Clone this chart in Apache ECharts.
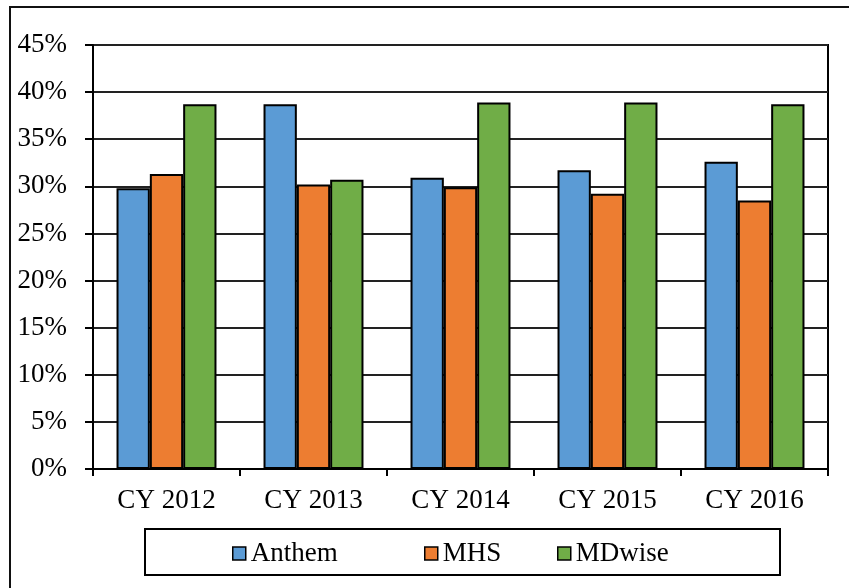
<!DOCTYPE html>
<html>
<head>
<meta charset="utf-8">
<script src="https://cdn.jsdelivr.net/npm/echarts@6/dist/echarts.min.js"></script>
<style>
  html, body { margin: 0; padding: 0; background: #fff; }
  #main { width: 849px; height: 588px; }
</style>
</head>
<body>
<div id="main"></div>
<script>
// data
var years = ['CY 2012', 'CY 2013', 'CY 2014', 'CY 2015', 'CY 2016'];
var anthem = [0.298, 0.387, 0.309, 0.317, 0.326];
var mhs = [0.313, 0.302, 0.299, 0.292, 0.285];
var mdwise = [0.387, 0.307, 0.389, 0.389, 0.387];
var seriesNames = ['Anthem', 'MHS', 'MDwise'];
var colors = ['#5B9BD5', '#ED7D31', '#70AD47'];

var font = '"Liberation Serif", "Times New Roman", serif';
var chart = echarts.init(document.getElementById('main'));

function bar(name, data, i) {
  return {
    name: name,
    type: 'bar',
    data: data,
    barGap: '0%',
    barCategoryGap: '32%',
    itemStyle: { color: colors[i], borderColor: '#000', borderWidth: 2 }
  };
}

// one legend per entry so the spacing can follow the picture
var legendX = [232, 424, 557];
var legends = seriesNames.map(function (n, i) {
  return {
    data: [n],
    left: legendX[i],
    top: 540,
    icon: 'rect',
    itemWidth: 13,
    itemHeight: 13,
    itemGap: 0,
    padding: 0,
    itemStyle: { borderColor: '#000', borderWidth: 1.5 },
    textStyle: { fontFamily: font, fontSize: 27, color: '#000', padding: [0, 0, 0, 0] },
    selectedMode: false
  };
});

chart.setOption({
  animation: false,
  color: colors,
  grid: { left: 93, right: 21, top: 45, bottom: 119, show: true, borderColor: '#000', borderWidth: 2 },
  legend: legends,
  xAxis: {
    type: 'category',
    data: years,
    axisLine: { lineStyle: { color: '#000', width: 2 } },
    axisTick: { show: true, length: 7, lineStyle: { color: '#000', width: 2 } },
    axisLabel: { fontFamily: font, fontSize: 27, color: '#000', margin: 18 }
  },
  yAxis: {
    type: 'value',
    min: 0,
    max: 0.45,
    interval: 0.05,
    axisLine: { show: true, lineStyle: { color: '#000', width: 2 } },
    axisTick: { show: true, length: 8, lineStyle: { color: '#000', width: 2 } },
    splitLine: { lineStyle: { color: '#222', width: 2 } },
    axisLabel: {
      fontFamily: font, fontSize: 27, color: '#000', margin: 26,
      formatter: function (v) { return Math.round(v * 100) + '%'; }
    }
  },
  series: [bar(seriesNames[0], anthem, 0), bar(seriesNames[1], mhs, 1), bar(seriesNames[2], mdwise, 2)],
  graphic: [
    { type: 'rect', shape: { x: 10, y: 7, width: 860, height: 600 }, style: { fill: null, stroke: '#111', lineWidth: 2 }, silent: true },
    { type: 'rect', shape: { x: 145, y: 529, width: 635, height: 46 }, style: { fill: null, stroke: '#000', lineWidth: 2 }, silent: true }
  ]
});
</script>
</body>
</html>
